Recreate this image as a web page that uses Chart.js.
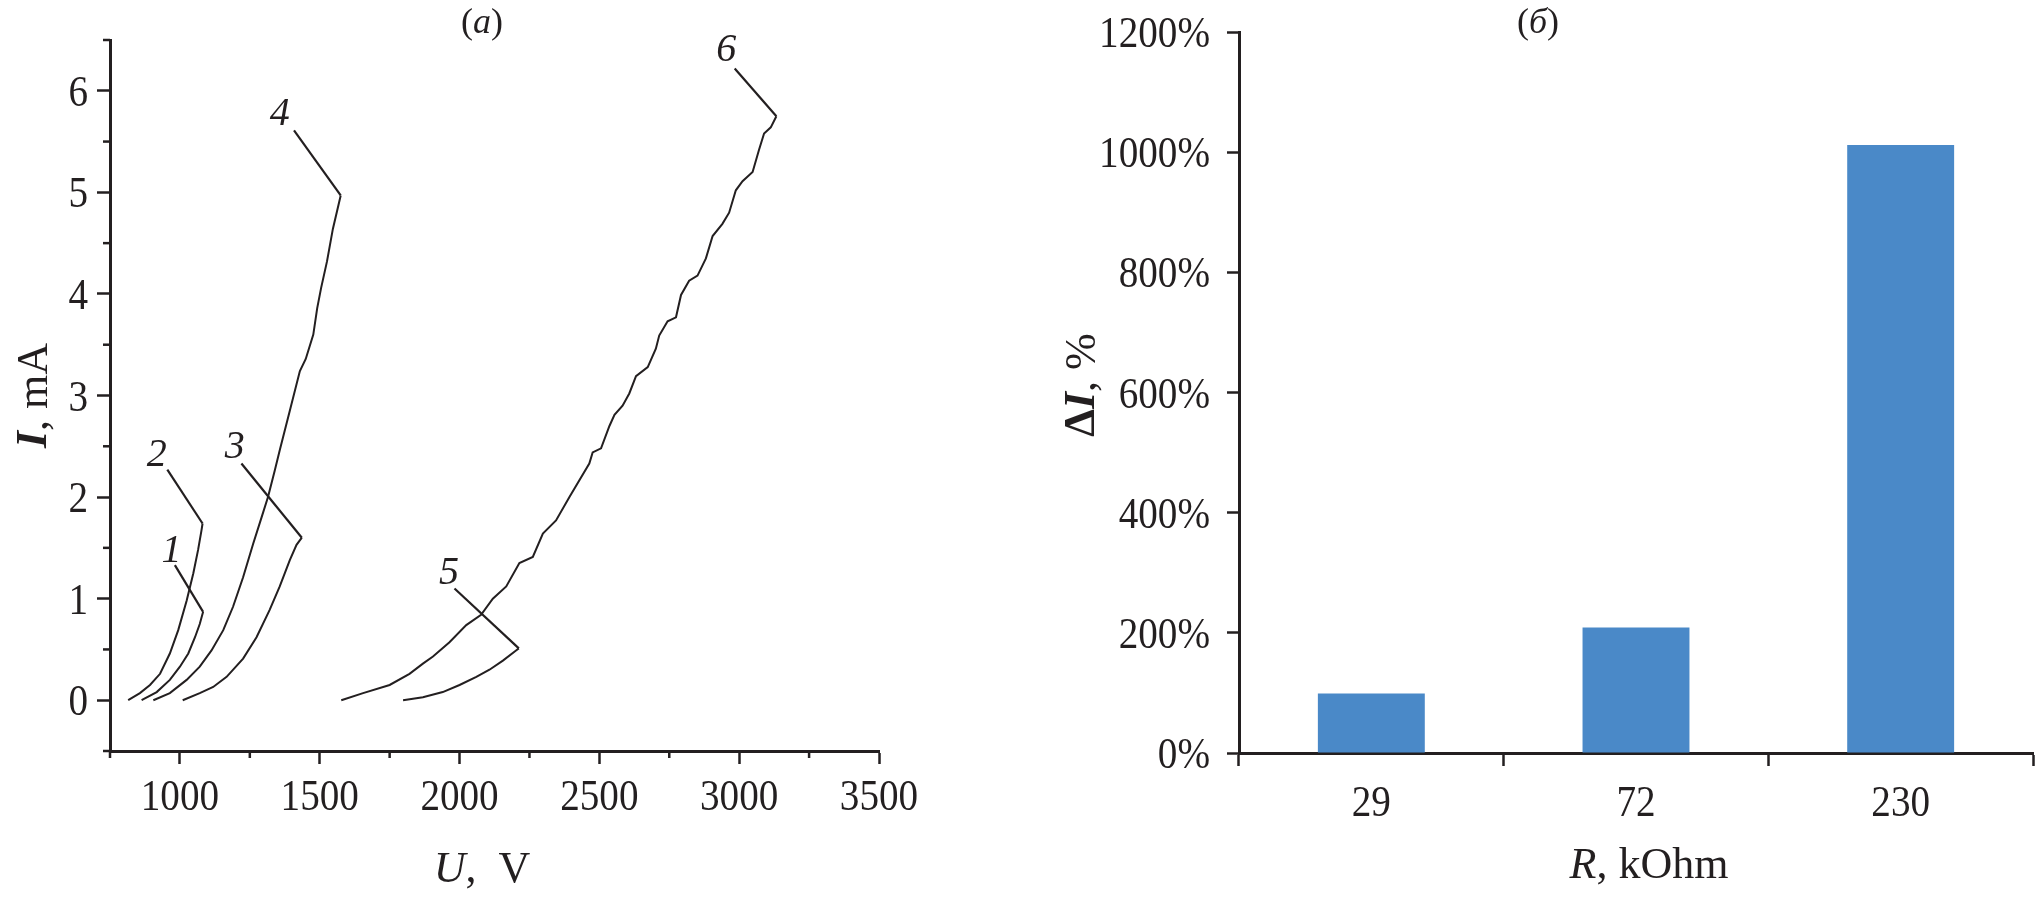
<!DOCTYPE html>
<html>
<head>
<meta charset="utf-8">
<script src="https://cdn.jsdelivr.net/npm/chart.js@4.4.1/dist/chart.umd.min.js"></script>
<style>
    body { margin: 0; background: #fff; width: 2040px; height: 917px; position: relative; overflow: hidden; }
    .panel { position: absolute; top: 0; height: 917px; }
    #leftPanel { left: 0; width: 1000px; }
    #rightPanel { left: 1000px; width: 1040px; }
</style>
</head>
<body>
<div class="panel" id="leftPanel"><canvas id="ivChart"></canvas></div>
<div class="panel" id="rightPanel"><canvas id="barChart"></canvas></div>
<script>
// (a) current-voltage curves, U in V, I in mA
const u1 = [863, 917, 964, 1000, 1030, 1054, 1071, 1083];
const i1 = [0, 0.08, 0.20, 0.33, 0.46, 0.62, 0.75, 0.87];
const u2 = [815, 857, 893, 929, 964, 994, 1024, 1048, 1065, 1077, 1081];
const i2 = [0, 0.07, 0.15, 0.26, 0.46, 0.69, 0.98, 1.25, 1.48, 1.67, 1.74];
const u3 = [1010, 1071, 1119, 1167, 1226, 1274, 1321, 1357, 1393, 1417, 1436];
const i3 = [0, 0.07, 0.13, 0.23, 0.41, 0.62, 0.89, 1.12, 1.38, 1.53, 1.60];
const u4 = [905, 964, 1024, 1071, 1113, 1155, 1190, 1226, 1262, 1292, 1315, 1339, 1357, 1393, 1429, 1450, 1477, 1491, 1505, 1526, 1547, 1575];
const i4 = [0, 0.07, 0.20, 0.33, 0.49, 0.69, 0.92, 1.21, 1.54, 1.80, 2.00, 2.26, 2.46, 2.85, 3.24, 3.36, 3.60, 3.86, 4.06, 4.32, 4.64, 4.97];
const u5 = [1798, 1869, 1940, 2000, 2060, 2107, 2155, 2202, 2212];
const i5 = [0, 0.03, 0.08, 0.15, 0.23, 0.30, 0.39, 0.49, 0.51];
const u6 = [1577, 1655, 1750, 1821, 1869, 1905, 1964, 2024, 2077, 2119, 2167, 2214, 2262, 2298, 2345, 2393, 2464,
            2476, 2506, 2536, 2554, 2583, 2607, 2631, 2673, 2702, 2714, 2744, 2774, 2792, 2821, 2851, 2881, 2905,
            2940, 2964, 2988, 3012, 3048, 3071, 3089, 3113, 3133];
const i6 = [0, 0.07, 0.15, 0.26, 0.36, 0.43, 0.57, 0.74, 0.84, 1.00, 1.12, 1.35, 1.41, 1.64, 1.77, 2.00, 2.33,
            2.44, 2.48, 2.70, 2.81, 2.90, 3.02, 3.19, 3.28, 3.46, 3.59, 3.73, 3.77, 3.99, 4.13, 4.18, 4.35, 4.57,
            4.69, 4.80, 5.02, 5.11, 5.20, 5.42, 5.58, 5.64, 5.75];

// curve numbers and their leader lines (leader runs from here to the curve end)
const curveNames = ['1', '2', '3', '4', '5', '6'];
const nameU = [970, 917, 1196, 1357, 1962, 2954];
const nameI = [1.46, 2.41, 2.49, 5.77, 1.25, 6.40];
const leaderU = [982, 955, 1220, 1408, 1982, 2984];
const leaderI = [1.33, 2.27, 2.33, 5.61, 1.10, 6.22];

const uTicks = [1000, 1500, 2000, 2500, 3000, 3500];
const uMinor = [750, 1250, 1750, 2250, 2750, 3250];
const iTicks = [0, 1, 2, 3, 4, 5, 6];
const iMinor = [-0.5, 0.5, 1.5, 2.5, 3.5, 4.5, 5.5, 6.5];

// (б) current increase vs resistance
const resistances = ['29', '72', '230'];
const deltaI = [99, 209, 1012];
const pctTicks = [0, 200, 400, 600, 800, 1000, 1200];

const ink = '#231f20';
const serif = '"Liberation Serif", "Times New Roman", serif';
const tickFont = '45px ' + serif;
Chart.defaults.font.family = serif;
Chart.defaults.color = ink;

function drawRich(ctx, parts, x, y, angle) {
    ctx.save();
    ctx.translate(x, y);
    if (angle) ctx.rotate(angle);
    ctx.textBaseline = 'middle';
    ctx.fillStyle = ink;
    let w = 0;
    parts.forEach(p => { ctx.font = p.f; w += ctx.measureText(p.t).width; });
    let cx = -w / 2;
    parts.forEach(p => { ctx.font = p.f; ctx.textAlign = 'left'; ctx.fillText(p.t, cx, 0); cx += ctx.measureText(p.t).width; });
    ctx.restore();
}

// tick numbers in the figure are a little narrow, so squeeze them horizontally
function drawTick(ctx, text, x, yMid, align) {
    ctx.save();
    ctx.translate(x, yMid + 15);
    ctx.scale(0.87, 1);
    ctx.font = tickFont;
    ctx.fillStyle = ink;
    ctx.textAlign = align;
    ctx.textBaseline = 'alphabetic';
    ctx.fillText(text, 0, 0);
    ctx.restore();
}

const curves = [[u1, i1], [u2, i2], [u3, i3], [u4, i4], [u5, i5], [u6, i6]];
const ivDatasets = curves.map(([u, i]) => ({
    data: u.map((v, k) => ({ x: v, y: i[k] })),
    borderColor: ink, borderWidth: 2, pointRadius: 0, showLine: true, tension: 0
}));
curves.forEach(([u, i], k) => {
    ivDatasets.push({
        data: [{ x: leaderU[k], y: leaderI[k] }, { x: u[u.length - 1], y: i[i.length - 1] }],
        borderColor: ink, borderWidth: 2.2, pointRadius: 0, showLine: true
    });
});

const ivDecor = {
    id: 'ivDecor',
    afterDraw(chart) {
        const { ctx, chartArea } = chart;
        const xs = chart.scales.x, ys = chart.scales.y;
        ctx.save();
        ctx.strokeStyle = ink;
        ctx.lineWidth = 2.5;
        uMinor.forEach(v => {
            const p = xs.getPixelForValue(v);
            ctx.beginPath(); ctx.moveTo(p, chartArea.bottom); ctx.lineTo(p, chartArea.bottom + 7); ctx.stroke();
        });
        iMinor.forEach(v => {
            const p = ys.getPixelForValue(v);
            ctx.beginPath(); ctx.moveTo(chartArea.left, p); ctx.lineTo(chartArea.left - 7, p); ctx.stroke();
        });
        ctx.fillStyle = ink;
        ctx.font = 'italic 40px ' + serif;
        ctx.textAlign = 'center';
        ctx.textBaseline = 'middle';
        curveNames.forEach((n, k) => ctx.fillText(n, xs.getPixelForValue(nameU[k]), ys.getPixelForValue(nameI[k])));
        ctx.restore();
        uTicks.forEach(v => drawTick(ctx, String(v), xs.getPixelForValue(v), 795, 'center'));
        iTicks.forEach(v => drawTick(ctx, String(v), 88, ys.getPixelForValue(v), 'right'));
        drawRich(ctx, [{ t: 'I', f: 'italic bold 44px ' + serif }, { t: ', mA', f: '44px ' + serif }], 35, (chartArea.top + chartArea.bottom) / 2, -Math.PI / 2);
        drawRich(ctx, [{ t: 'U', f: 'italic 44px ' + serif }, { t: ',  V', f: '44px ' + serif }], 482, 870, 0);
        drawRich(ctx, [{ t: '(', f: '36px ' + serif }, { t: 'a', f: 'italic 36px ' + serif }, { t: ')', f: '36px ' + serif }], 482, 24, 0);
    }
};

new Chart(document.getElementById('ivChart'), {
    type: 'scatter',
    data: { datasets: ivDatasets },
    options: {
        responsive: true, maintainAspectRatio: false, animation: false,
        layout: { padding: { left: 0, right: 121, top: 40, bottom: 0 } },
        plugins: { legend: { display: false }, tooltip: { enabled: false } },
        scales: {
            x: {
                type: 'linear', min: 750, max: 3500,
                afterBuildTicks: s => { s.ticks = uTicks.map(v => ({ value: v })); },
                afterFit: s => { s.height = 166; },
                ticks: { display: false },
                grid: { drawOnChartArea: false, tickLength: 13, tickWidth: 2.5, tickColor: ink },
                border: { color: ink, width: 3 }
            },
            y: {
                type: 'linear', min: -0.5, max: 6.5,
                afterBuildTicks: s => { s.ticks = iTicks.map(v => ({ value: v })); },
                afterFit: s => { s.width = 110; },
                ticks: { display: false },
                grid: { drawOnChartArea: false, tickLength: 13, tickWidth: 2.5, tickColor: ink },
                border: { color: ink, width: 3 }
            }
        }
    },
    plugins: [ivDecor]
});

const barDecor = {
    id: 'barDecor',
    afterDraw(chart) {
        const { ctx } = chart;
        const xs = chart.scales.x, ys = chart.scales.y;
        resistances.forEach((r, k) => drawTick(ctx, r, xs.getPixelForValue(k), 801, 'center'));
        pctTicks.forEach(v => drawTick(ctx, v + '%', 210, ys.getPixelForValue(v), 'right'));
        drawRich(ctx, [{ t: '\u0394', f: 'bold 44px ' + serif }, { t: 'I', f: 'italic bold 44px ' + serif }, { t: ', %', f: '44px ' + serif }], 83, 385, -Math.PI / 2);
        drawRich(ctx, [{ t: 'R', f: 'italic 44px ' + serif }, { t: ', kOhm', f: '44px ' + serif }], 649, 866, 0);
        drawRich(ctx, [{ t: '(', f: '36px ' + serif }, { t: '\u0431', f: 'italic 36px ' + serif }, { t: ')', f: '36px ' + serif }], 538, 24, 0);
    }
};

new Chart(document.getElementById('barChart'), {
    type: 'bar',
    data: {
        labels: resistances,
        datasets: [{ data: deltaI, backgroundColor: '#4a89c8', categoryPercentage: 1, barPercentage: 0.404 }]
    },
    options: {
        responsive: true, maintainAspectRatio: false, animation: false,
        layout: { padding: { left: 0, right: 7, top: 32, bottom: 0 } },
        plugins: { legend: { display: false }, tooltip: { enabled: false } },
        scales: {
            x: {
                afterFit: s => { s.height = 164; },
                ticks: { display: false },
                grid: { offset: true, drawOnChartArea: false, tickLength: 13, tickWidth: 2.5, tickColor: ink },
                border: { color: ink, width: 3 }
            },
            y: {
                min: 0, max: 1200,
                afterBuildTicks: s => { s.ticks = pctTicks.map(v => ({ value: v })); },
                afterFit: s => { s.width = 239; },
                ticks: { display: false },
                grid: { drawOnChartArea: false, tickLength: 12, tickWidth: 2.5, tickColor: ink },
                border: { color: ink, width: 3 }
            }
        }
    },
    plugins: [barDecor]
});
</script>
</body>
</html>
